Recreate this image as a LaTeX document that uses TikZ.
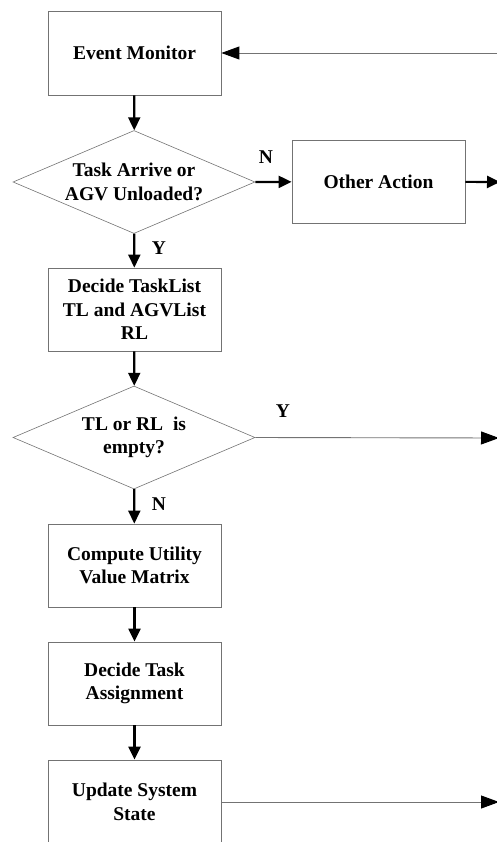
\documentclass[tikz,border=0pt]{standalone}
\usepackage{fontspec}
\setmainfont{Liberation Serif}
\usetikzlibrary{shapes.geometric,arrows.meta}
\begin{document}
\begin{tikzpicture}[x=1pt, y=-1pt, font=\fontsize{19.5}{23.5}\selectfont\bfseries]
\tikzstyle{every node}+=[inner sep=0pt]
\tikzstyle{procbox}=[draw=black!55, line width=0.8pt, minimum width=173pt, minimum height=84pt, align=center]
\tikzstyle{decision}=[draw=black!55, line width=0.6pt, diamond, aspect=2.35, minimum width=242pt, minimum height=103pt, align=center]
\tikzstyle{flow}=[line width=2.2pt, -{Triangle[length=13pt,width=12pt]}]
\tikzstyle{longflow}=[draw=black!55, line width=0.9pt, -{Triangle[length=18pt,width=13pt,color=black]}]
\useasboundingbox (0,0) rectangle (496,842);
% boxes and decisions
\node [procbox] (em) at (134.5,53) {Event Monitor};
\node [decision] (d1) at (134,182) {Task Arrive or\\AGV Unloaded?};
\node [procbox, minimum height=83pt] (oa) at (378.5,181.5) {Other Action};
\node [procbox, minimum height=83pt] (dl) at (134.5,309.5) {Decide TaskList\\TL and AGVList\\RL};
\node [decision] (d2) at (134,437.5) {TL or RL\ \ is\\empty?};
\node [procbox, minimum height=83pt] (cu) at (134.5,565.5) {Compute Utility\\Value Matrix};
\node [procbox, minimum height=83pt] (dt) at (134.5,683.5) {Decide Task\\Assignment};
\node [procbox] (us) at (134.5,802) {Update System\\State};
% loose ends at the right edge
\coordinate (back) at (500,53);
\coordinate (out1) at (500,182);
\coordinate (out2) at (499,438);
\coordinate (out3) at (499,802);
% connectors
\draw [flow] (em) -- (d1);
\draw [flow] (d1.east) -- (oa);
\draw [flow] (d1) -- (dl);
\draw [flow] (dl) -- (d2);
\draw [flow] (d2) -- (cu);
\draw [flow] (cu) -- (dt);
\draw [flow] (dt) -- (us);
\draw [flow] (oa) -- (out1);
\draw [longflow] (back) -- (em);
\draw [longflow] (d2.east) -- (out2);
\draw [longflow] (us) -- (out3);
% branch labels
\node (n1) at (266,157) {N};
\node (y1) at (159,248) {Y};
\node (y2) at (283,411) {Y};
\node (n2) at (159,504) {N};
\end{tikzpicture}
\end{document}
